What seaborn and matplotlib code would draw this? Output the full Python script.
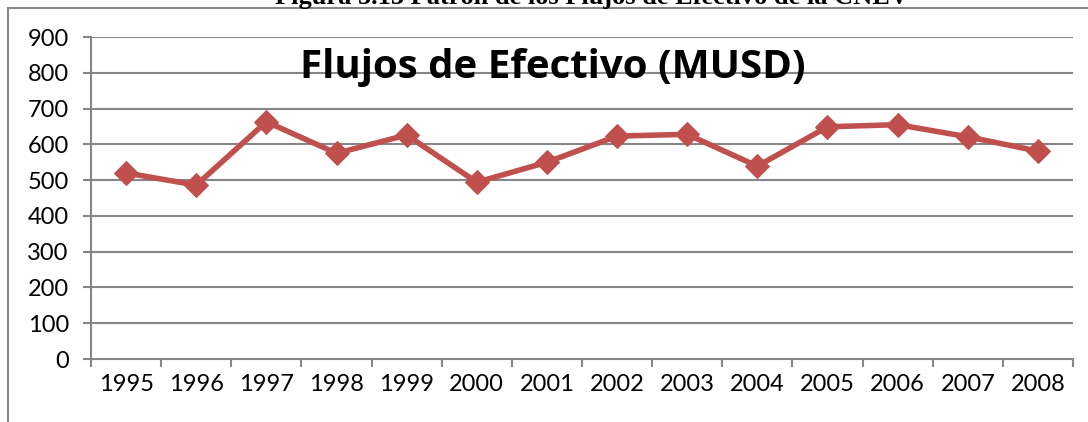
import numpy as np
import pandas as pd
import matplotlib
matplotlib.use("Agg")
import matplotlib.pyplot as plt
from matplotlib.patches import Rectangle
import seaborn as sns

# Cash flows per year, millions of USD
years = ["1995", "1996", "1997", "1998", "1999", "2000", "2001",
         "2002", "2003", "2004", "2005", "2006", "2007", "2008"]
flujos = [520, 486, 663, 575, 626, 494, 550,
          623, 628, 539, 649, 655, 621, 581]
y_ticks = [0, 100, 200, 300, 400, 500, 600, 700, 800, 900]

title = "Flujos de Efectivo (MUSD)"
caption = "Figura 3.13 Patrón de los Flujos de Efectivo de la CNEV"

sns.set_theme(style="white")
plt.rcParams["font.family"] = ["Lato", "DejaVu Sans"]

W, H = 1088, 422
fig = plt.figure(figsize=(W / 100, H / 100), dpi=100)
ax = fig.add_axes([91 / W, 1 - 359 / H, (1073 - 91) / W, (359 - 37) / H])

df = pd.DataFrame({"idx": np.arange(len(years)), "valor": flujos})
grid_c = "#868686"
line_c = "#C0504D"

sns.lineplot(data=df, x="idx", y="valor", ax=ax, color=line_c, lw=4,
             marker="D", markersize=12, markeredgecolor=line_c, zorder=3)

ax.set_xlim(-0.5, len(years) - 0.5)
ax.set_ylim(0, 900)
ax.set_yticks(y_ticks)
ax.set_yticklabels([str(v) for v in y_ticks], fontsize=17)
for v in y_ticks[1:]:
    ax.axhline(v, color=grid_c, lw=1.5, zorder=1)

# category labels centered; tick marks at category boundaries
ax.set_xticks(np.arange(len(years)))
ax.set_xticklabels(years, fontsize=17)
ax.set_xticks(np.arange(-0.5, len(years), 1.0), minor=True)
ax.tick_params(axis="x", which="major", bottom=True, length=0, pad=11,
               colors="black")
ax.tick_params(axis="x", which="minor", bottom=True, length=6, width=1.5,
               color=grid_c, direction="out")
ax.tick_params(axis="y", left=True, length=6, width=1.5, direction="out",
               pad=10, labelcolor="black", color=grid_c)
ax.set_xlabel("")
ax.set_ylabel("")
for s in ["top", "right"]:
    ax.spines[s].set_visible(False)
for s in ["left", "bottom"]:
    ax.spines[s].set_color(grid_c)
    ax.spines[s].set_linewidth(1.5)

ax.text(0.47, 0.965, title, transform=ax.transAxes, ha="center", va="top",
        fontsize=29, fontweight="bold", family=["Open Sans", "DejaVu Sans"],
        color="black")

# chart frame
fig.patches.append(Rectangle((8 / W, -0.1), 1.2, 1 - 8 / H + 0.1,
                             transform=fig.transFigure, fill=False,
                             edgecolor=grid_c, lw=1.5))

# caption above the frame
fig.text(592 / W, 1 - 4 / H, caption, ha="center", va="baseline",
         fontsize=19, fontweight="bold",
         family=["Liberation Serif", "DejaVu Serif"], color="black")

fig.savefig("out.png", dpi=100)
